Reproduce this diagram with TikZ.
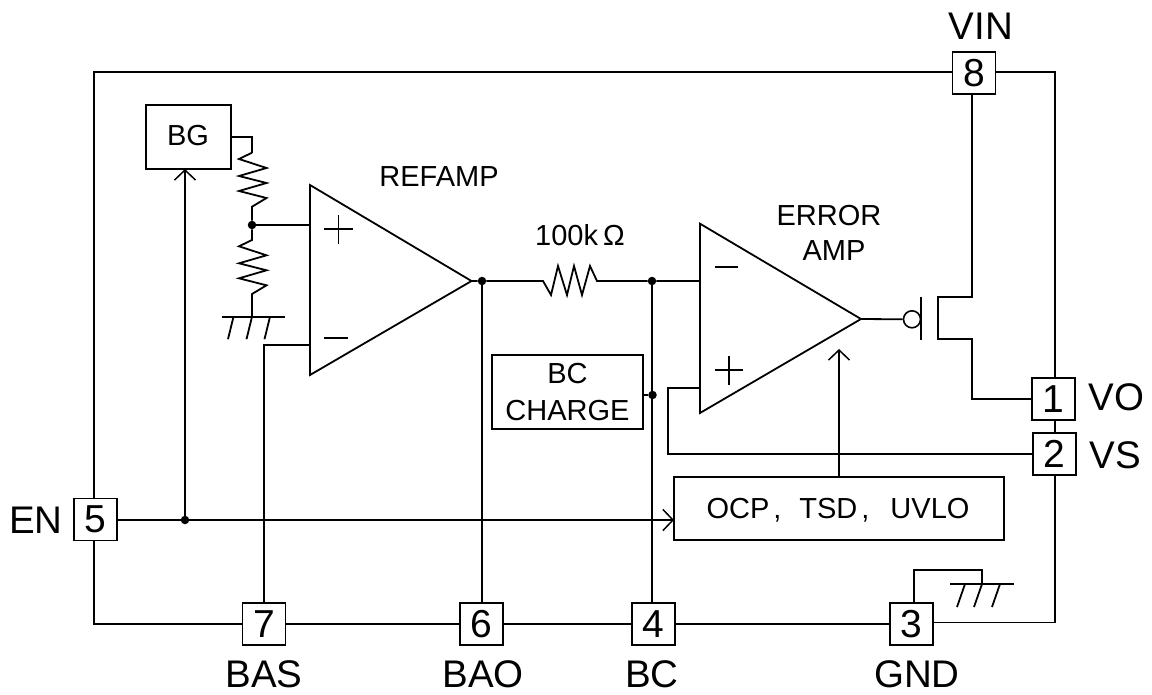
\documentclass[tikz,border=0pt]{standalone}
\usepackage{fontspec}
\setmainfont{Liberation Sans}
\usetikzlibrary{arrows.meta}
\newcommand{\fsz}[2]{\fontsize{#1}{#2}\selectfont}
\tikzset{
  wire/.style={line width=1.8pt,line join=miter},
  openarrow/.style={wire,-{Straight Barb[length=10pt,width=21pt,line width=1.5pt]}},
  pinbox/.style={draw,line width=1.8pt,inner sep=0pt,outer sep=0pt,minimum width=43pt,minimum height=42pt,font=\fsz{39}{39}},
  blockbox/.style={draw,line width=1.8pt,inner sep=0pt,outer sep=0pt,font=\fsz{29}{36.7},align=center},
  pinlabel/.style={inner sep=0pt,anchor=base,font=\fsz{38.5}{39}},
  textlabel/.style={inner sep=0pt,anchor=base,font=\fsz{29}{35}},
  junc/.style={circle,fill=black,inner sep=0pt,minimum size=8.5pt},
  bubble/.style={circle,draw,line width=1.6pt,inner sep=0pt,minimum size=17pt},
}
\begin{document}
\begin{tikzpicture}[x=1pt,y=-1pt]
\useasboundingbox (0,0) rectangle (1152,694);
% pins
\node[pinbox] (p8) at (974,73) {8};
\node[pinbox] (p1) at (1053.5,399) {1};
\node[pinbox] (p2) at (1054.5,454) {2};
\node[pinbox] (p3) at (911.5,624) {3};
\node[pinbox] (p4) at (653.5,624) {4};
\node[pinbox] (p5) at (95.5,519.5) {5};
\node[pinbox] (p6) at (481.5,624) {6};
\node[pinbox] (p7) at (264,624) {7};
% pin labels
\node[pinlabel] (lvin) at (981,39) {VIN};
\node[pinlabel] (lvo) at (1116.5,410) {VO};
\node[pinlabel] (lvs) at (1115,468) {VS};
\node[pinlabel] (len) at (36,533) {EN};
\node[pinlabel] (lbas) at (264,687) {BAS};
\node[pinlabel] (lbao) at (483,687) {BAO};
\node[pinlabel] (lbc) at (652,687) {BC};
\node[pinlabel] (lgnd) at (917,687) {GND};
% blocks
\node[blockbox,minimum width=85pt,minimum height=64pt] (bg) at (188.5,137) {};
\node[textlabel] (bgt) at (188,145) {BG};
\node[blockbox,minimum width=151pt,minimum height=74pt] (bcc) at (567.5,392) {BC\\CHARGE};
\node[blockbox,minimum width=330pt,minimum height=63pt] (ocp) at (839,508.5) {};
\node[textlabel] (ocpt) at (838,518) {OCP\hspace{4pt},\hspace{18pt}TSD\hspace{4pt},\hspace{21pt}UVLO};
% text labels
\node[textlabel] (lref) at (439,186.5) {REFAMP};
\node[textlabel] (lerr) at (829,225) {ERROR};
\node[textlabel] (lamp) at (834,260) {AMP};
\node[textlabel] (lres) at (580,245) {100k\hspace{5pt}Ω};
% frame corners
\coordinate (tl) at (94,72);
\coordinate (tr) at (1055,72);
\coordinate (bl) at (94,624);
\coordinate (br) at (1055,622.5);
\draw[wire] (p8.west |- tl) -- (tl) -- (tl |- p5.north);
\draw[wire] (bl |- p5.south) -- (bl) -- (p7.west);
\draw[wire] (p7.east) -- (p6.west);
\draw[wire] (p6.east) -- (p4.west);
\draw[wire] (p4.east) -- (p3.west);
\draw[wire] (p3.east |- br) -- (br) -- (br |- p2.south);
\draw[wire] (p8.east |- tr) -- (tr) -- (tr |- p1.north);
\draw[wire] (tr |- p1.south) -- (tr |- p2.north);
% REF amp
\coordinate (ra) at (310,185);
\coordinate (rb) at (310,375);
\coordinate (rt) at (471.5,281);
\coordinate (rplus) at (310,225);
\coordinate (rminus) at (310,344.7);
\draw[wire] (ra) -- (rb) -- (rt) -- cycle;
\draw[wire] (324,229) -- (353,229) (338.5,215) -- (338.5,244);
\draw[wire] (324,338) -- (348,338);
% ERROR amp
\coordinate (ea) at (700,223.7);
\coordinate (eb) at (700,413);
\coordinate (et) at (861,319);
\coordinate (eminus) at (700,281);
\coordinate (eplus) at (700,387.7);
\draw[wire] (ea) -- (eb) -- (et) -- cycle;
\draw[wire] (715,267) -- (738,267);
\draw[wire] (715,370) -- (743,370) (729,356) -- (729,385);
% BG divider
\coordinate (r1a) at (252,152.7);
\coordinate (r1b) at (252,206.7);
\node[junc] (jdiv) at (252,225) {};
\coordinate (r2a) at (252,240);
\coordinate (r2b) at (252,294);
\coordinate (gnd1) at (252,316.7);
\draw[wire] (bg.east) -- (bg.east -| r1a) -- (r1a);
\draw[wire] (r1a) -- ++(-13,6.3) -- ++(27.5,9) -- ++(-27.5,8) -- ++(27.5,7) -- ++(-27.5,8) -- ++(27.5,7) -- (r1b) -- (jdiv);
\draw[wire] (jdiv) -- (r2a) -- ++(-13,6.3) -- ++(27.5,9) -- ++(-27.5,8) -- ++(27.5,7) -- ++(-27.5,8) -- ++(27.5,7) -- (r2b) -- (gnd1);
\draw[wire] (jdiv) -- (rplus);
\draw[wire] (222,316.7) -- (285,316.7);
\draw[wire] (233.5,316.7) -- ++(-5.5,22.5) (252,316.7) -- ++(-5.5,22.5) (270,316.7) -- ++(-5.5,22.5);
\draw[wire] (rminus) -- (p7.north |- rminus) -- (p7.north);
% output of REF amp and series resistor
\node[junc] (jout) at (482,281) {};
\coordinate (r3a) at (543,281);
\coordinate (r3b) at (597,281);
\node[junc] (jbc) at (652,281) {};
\draw[wire] (rt) -- (jout) -- (r3a) -- (551,295) -- (558,266) -- (567,295) -- (574,266) -- (582,295) -- (590,266) -- (r3b) -- (jbc) -- (eminus);
\draw[wire] (jout) -- (jout |- p6.north);
\draw[wire] (jbc) -- (jbc |- p4.north);
\node[junc] (jchg) at (652.5,395) {};
\draw[wire] (bcc.east |- jchg) -- (jchg);
% VS feedback
\coordinate (vsc) at (668,387.7);
\draw[wire] (eplus) -- (vsc) -- (vsc |- p2.west) -- (p2.west);
% OCP arrow to amp
\coordinate (eamp) at (839,349);
\draw[openarrow] (ocp.north -| eamp) -- (eamp);
% enable
\node[junc] (jen) at (185,520) {};
\draw[openarrow] (p5.east |- jen) -- (jen) -- (ocp.west |- jen);
\draw[openarrow] (jen) -- (jen |- bg.south);
% PMOS
\node[bubble] (gate) at (912,319.3) {};
\draw[wire] (et) -- (gate.west);
\coordinate (gt) at (921,296.7);
\coordinate (gb) at (921,340);
\draw[wire] (gt) -- (gb);
\coordinate (ct) at (938,297);
\coordinate (cb) at (938,339);
\coordinate (dt) at (972,297);
\coordinate (db) at (972,339);
\draw[wire] (p8.south -| dt) -- (dt) -- (ct) -- (cb) -- (db) -- (db |- p1.west) -- (p1.west);
% GND
\coordinate (g3a) at (914,570);
\coordinate (g3b) at (982,570);
\coordinate (g3c) at (982,584);
\draw[wire] (p3.north -| g3a) -- (g3a) -- (g3b) -- (g3c);
\draw[wire] (950,584) -- (1014,584);
\draw[wire] (965,584) -- ++(-8,23) (g3c) -- ++(-8,23) (1000,584) -- ++(-8,23);
\end{tikzpicture}
\end{document}
